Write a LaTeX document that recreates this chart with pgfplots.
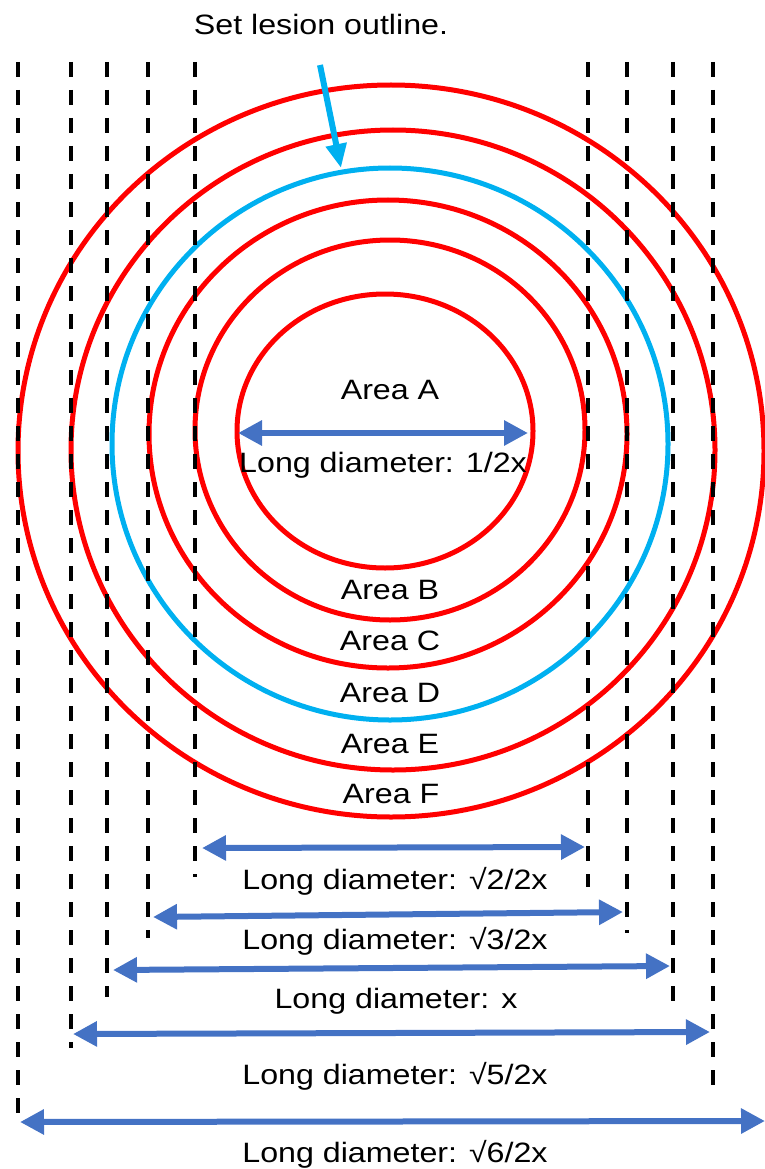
\documentclass[border=0pt]{standalone}
\usepackage{pgfplots}
\pgfplotsset{compat=1.18}
\usetikzlibrary{arrows.meta}
\usepackage{fontspec}
\setmainfont{Liberation Sans}
\definecolor{ringred}{HTML}{FF0000}
\definecolor{lesion}{HTML}{00B0F0}
\definecolor{arrowblue}{HTML}{4472C4}
\newcommand{\lblfont}{\fontsize{28}{33}\selectfont}
\tikzset{lbl/.style={font=\lblfont, anchor=base, inner sep=0pt, xscale=1.15}}
\begin{document}
\begin{tikzpicture}
\begin{axis}[
    scale only axis,
    width=765pt, height=1169pt,
    xmin=0, xmax=765, ymin=0, ymax=1169,
    y dir=reverse,
    hide axis, clip=false,
]
% rings (centre x, centre y, x radius, y radius)
\draw[ringred, line width=5pt] (axis cs:385,431) ellipse [x radius=148, y radius=137];
\draw[ringred, line width=5pt] (axis cs:390,430) ellipse [x radius=195, y radius=190];
\draw[ringred, line width=5pt] (axis cs:388,434) ellipse [x radius=239, y radius=234];
\draw[lesion, line width=5pt] (axis cs:390,444) ellipse [x radius=278, y radius=276];
\draw[ringred, line width=5pt] (axis cs:393,450) ellipse [x radius=322, y radius=320];
\draw[ringred, line width=5pt] (axis cs:391,451) ellipse [x radius=373, y radius=366];

% dashed guide lines
\pgfplotsset{guide/.style={black, line width=4pt, dash pattern=on 15pt off 13pt, no marks}}
\addplot[guide] coordinates {(18,62) (18,1122)};
\addplot[guide] coordinates {(71,62) (71,1048)};
\addplot[guide] coordinates {(107,62) (107,997)};
\addplot[guide] coordinates {(148,62) (148,938)};
\addplot[guide] coordinates {(195,62) (195,877)};
\addplot[guide] coordinates {(588,62) (588,887)};
\addplot[guide] coordinates {(627,62) (627,933)};
\addplot[guide] coordinates {(673,62) (673,1012)};
\addplot[guide] coordinates {(713,62) (713,1085)};

% diameter arrows
\pgfplotsset{diam/.style={arrowblue, line width=6pt, {Triangle[length=24pt,width=24pt]}-{Triangle[length=24pt,width=24pt]}, no marks}}
\addplot[diam] coordinates {(238,433) (528,433)};
\addplot[diam] coordinates {(202,848) (585,847)};
\addplot[diam] coordinates {(153,917) (623,912)};
\addplot[diam] coordinates {(113,970) (670,966)};
\addplot[diam] coordinates {(73,1034) (710,1032)};
\addplot[diam] coordinates {(20,1122) (765,1121)};

% lesion outline pointer
\addplot[lesion, line width=6pt, -{Triangle[length=24pt,width=20pt]}, no marks] coordinates {(320,65) (341,168)};

% labels
\node[lbl] at (axis cs:321,35) {Set lesion outline.};
\node[lbl] at (axis cs:390,399) {Area A};
\node[lbl] at (axis cs:383,472) {Long diameter: 1/2x};
\node[lbl] at (axis cs:390,599) {Area B};
\node[lbl] at (axis cs:390,650) {Area C};
\node[lbl] at (axis cs:390,702) {Area D};
\node[lbl] at (axis cs:390,753) {Area E};
\node[lbl] at (axis cs:391,803) {Area F};
\node[lbl] at (axis cs:395,889) {Long diameter: √2/2x};
\node[lbl] at (axis cs:395,949) {Long diameter: √3/2x};
\node[lbl] at (axis cs:396,1008) {Long diameter: x};
\node[lbl] at (axis cs:395,1084) {Long diameter: √5/2x};
\node[lbl] at (axis cs:395,1162) {Long diameter: √6/2x};
\end{axis}
\pgfresetboundingbox
\path (current axis.south west) rectangle (current axis.north east);
\end{tikzpicture}
\end{document}
